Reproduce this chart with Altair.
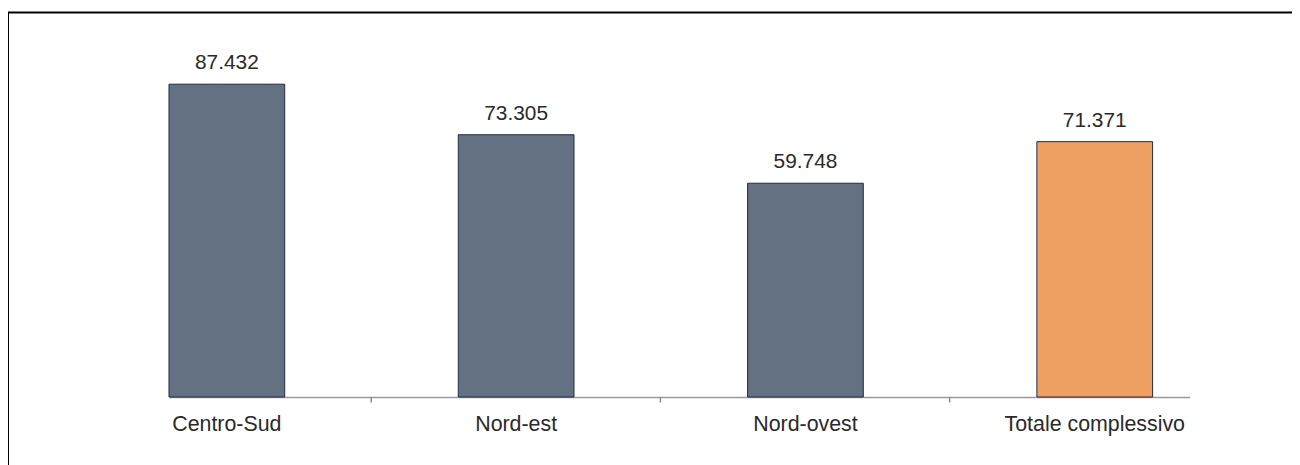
import altair as alt
import pandas as pd

categories = ["Centro-Sud", "Nord-est", "Nord-ovest", "Totale complessivo"]
values = [87.432, 73.305, 59.748, 71.371]
value_labels = ["87.432", "73.305", "59.748", "71.371"]
bar_colors = ["#647182", "#647182", "#647182", "#eda062"]

df = pd.DataFrame({"categoria": categories, "valore": values, "etichetta": value_labels})

W, H = 1027, 360
FONT = "Liberation Sans"

x_scale = alt.Scale(domain=categories, paddingInner=0.6, paddingOuter=0.064, align=0)
y_scale = alt.Scale(domain=[0, 100], nice=False)

base = alt.Chart(df)

bars = base.mark_bar(stroke="#1c2a45", strokeWidth=1).encode(
    x=alt.X("categoria:N", scale=x_scale, sort=categories,
            axis=alt.Axis(title=None, orient="bottom", labelAngle=0, ticks=False, domain=True,
                          domainColor="#9a9a9a", domainWidth=1.5,
                          labelFont=FONT, labelFontSize=21.5, labelColor="#2a2a2a",
                          labelPadding=17, labelLimit=400, grid=False)),
    y=alt.Y("valore:Q", scale=y_scale, axis=None),
    color=alt.Color("categoria:N", scale=alt.Scale(domain=categories, range=bar_colors), legend=None),
)

ticks = base.mark_bar(opacity=0).encode(
    x=alt.X("categoria:N", scale=x_scale, sort=categories,
            axis=alt.Axis(title=None, orient="bottom", values=categories[1:], labels=False, domain=False,
                          ticks=True, tickSize=5, tickColor="#8a8a8a", tickWidth=1.5,
                          bandPosition=-0.75, grid=False)),
    y=alt.Y("valore:Q", scale=y_scale, axis=None),
)

text = base.mark_text(font=FONT, fontSize=21, color="#2a2a2a", baseline="alphabetic", dy=-15).encode(
    x=alt.X("categoria:N", scale=x_scale, sort=categories, axis=None),
    y=alt.Y("valore:Q", scale=y_scale, axis=None),
    text="etichetta:N",
)

frame = alt.Chart(pd.DataFrame({"k": [0]})).mark_rect(
    fill="white", fillOpacity=0, stroke="black", strokeWidth=2
).encode(
    x=alt.value(-162), x2=alt.value(W + 300), y=alt.value(-27), y2=alt.value(H + 300)
)

chart = alt.layer(frame, bars, ticks, text).resolve_axis(x="independent").properties(
    width=W, height=H,
    padding={"left": 162, "top": 30, "right": 103, "bottom": 67},
    autosize=alt.AutoSizeParams(type="none"),
).configure_view(stroke=None)

chart.save("out.html", embed_options={"renderer": "svg", "actions": False})
